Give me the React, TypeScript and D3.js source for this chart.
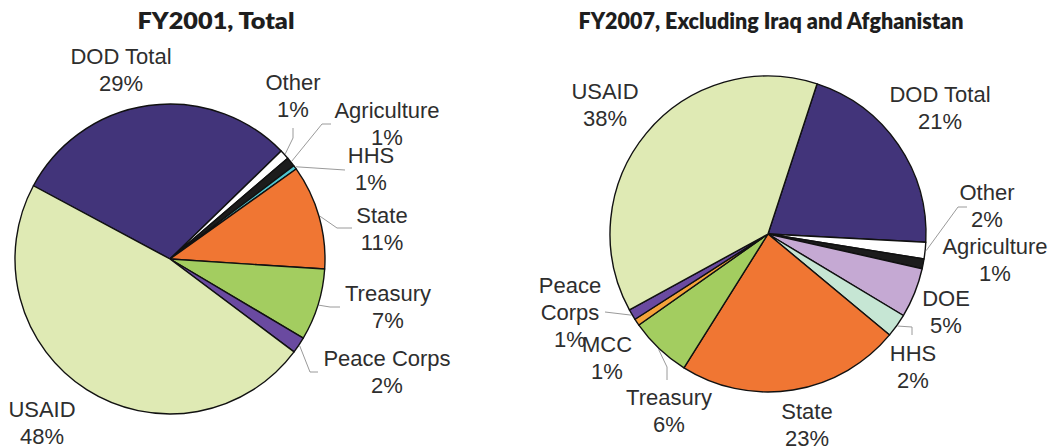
import React from "react";
import * as d3 from "d3";

// ---------- Data ----------
const leftTitle = "FY2001, Total";
const leftCategories = ["DOD Total", "Other", "Agriculture", "HHS", "State", "Treasury", "Peace Corps", "USAID"];
const leftValues = [29.9, 1.0, 1.0, 0.4, 10.9, 7.5, 1.7, 47.6];
const leftPctLabels = ["29%", "1%", "1%", "1%", "11%", "7%", "2%", "48%"];
const leftColors = ["#42347a", "#ffffff", "#1c1c1c", "#4fc6d0", "#f07633", "#a3cd60", "#6a4aa0", "#dfeab4"];

const rightTitle = "FY2007, Excluding Iraq and Afghanistan";
const rightCategories = ["DOD Total", "Other", "Agriculture", "DOE", "HHS", "State", "Treasury", "MCC", "Peace Corps", "USAID"];
const rightValues = [20.8, 1.7, 1.0, 5.1, 2.4, 22.9, 6.3, 0.7, 1.1, 38.0];
const rightPctLabels = ["21%", "2%", "1%", "5%", "2%", "23%", "6%", "1%", "1%", "38%"];
const rightColors = ["#42347a", "#ffffff", "#1c1c1c", "#c5a9d3", "#c6e6d4", "#f07633", "#a3cd60", "#f6a33a", "#6a4aa0", "#dfeab4"];

// ---------- Layout (positions relative to pie centre) ----------
type LabelLayout = { x: number; y: number; lines?: string[]; leader?: [number, number][] };

const leftLayout: Record<string, LabelLayout> = {
  "DOD Total": { x: -49, y: -195 },
  Other: { x: 123, y: -169, leader: [[123, -121], [123, -131]] },
  Agriculture: { x: 217, y: -141, leader: [[152, -135], [161, -135]] },
  HHS: { x: 201, y: -96, leader: [[175, -89]] },
  State: { x: 212, y: -36, leader: [[167, -31], [182, -31]] },
  Treasury: { x: 218, y: 42, leader: [[160, 48], [170, 48]] },
  "Peace Corps": { x: 217, y: 107, leader: [[140, 113], [148, 113]] },
  USAID: { x: -128, y: 158 },
};

const rightLayout: Record<string, LabelLayout> = {
  USAID: { x: -163, y: -135 },
  "DOD Total": { x: 172, y: -132 },
  Other: { x: 219, y: -34, leader: [[190, -27], [199, -27]] },
  Agriculture: { x: 227, y: 20 },
  DOE: { x: 178, y: 72 },
  HHS: { x: 145, y: 127, leader: [[144, 93], [144, 101]] },
  State: { x: 39, y: 185 },
  Treasury: { x: -99, y: 171, leader: [[-101, 133], [-101, 146]] },
  MCC: { x: -161, y: 118 },
  "Peace Corps": { x: -198, y: 59, lines: ["Peace", "Corps", "1%"], leader: [[-163, 78]] },
};

const LINE = 27;

type PieProps = {
  cx: number;
  cy: number;
  r: number;
  startDeg: number;
  categories: string[];
  values: number[];
  pcts: string[];
  colors: string[];
  layout: Record<string, LabelLayout>;
  title: string;
  titleX: number;
  titleWidth: number;
};

function Pie({ cx, cy, r, startDeg, categories, values, pcts, colors, layout, title, titleX, titleWidth }: PieProps) {
  const start = (startDeg * Math.PI) / 180;
  const pie = d3
    .pie<number>()
    .sort(null)
    .value((d) => d)
    .startAngle(start)
    .endAngle(start + 2 * Math.PI);
  const arcs = pie(values);
  const arc = d3.arc<d3.PieArcDatum<number>>().innerRadius(0).outerRadius(r);
  const line = d3.line();

  return (
    <g>
      <text
        x={titleX - titleWidth / 2}
        y={29}
        textLength={titleWidth}
        lengthAdjust="spacingAndGlyphs"
        fontFamily="Lato, 'Open Sans', sans-serif"
        fontWeight={800}
        fontSize={22}
        fill="#1e1e1e"
      >
        {title}
      </text>
      <g transform={`translate(${cx},${cy})`}>
        {arcs.map((a, i) => (
          <path key={i} d={arc(a) || ""} fill={colors[i]} stroke="#111" strokeWidth={1.4} strokeLinejoin="round" />
        ))}
        {arcs.map((a, i) => {
          const lay = layout[categories[i]];
          if (!lay || !lay.leader) return null;
          const mid = (a.startAngle + a.endAngle) / 2;
          const p0: [number, number] = [Math.sin(mid) * (r + 1), -Math.cos(mid) * (r + 1)];
          return (
            <path key={"l" + i} d={line([p0, ...lay.leader]) || ""} fill="none" stroke="#9a9a9a" strokeWidth={1} />
          );
        })}
        {arcs.map((a, i) => {
          const lay = layout[categories[i]];
          if (!lay) return null;
          const lines = lay.lines || [categories[i], pcts[i]];
          return (
            <text
              key={"t" + i}
              x={lay.x}
              y={lay.y}
              textAnchor="middle"
              fontFamily="'Liberation Sans', Arial, sans-serif"
              fontSize={22}
              fill="#2e2e2e"
            >
              {lines.map((s, j) => (
                <tspan key={j} x={lay.x} y={lay.y + j * LINE}>
                  {s}
                </tspan>
              ))}
            </text>
          );
        })}
      </g>
    </g>
  );
}

export default function App() {
  return (
    <svg
      width={1050}
      height={447}
      style={{ position: "absolute", left: 0, top: 0, background: "#fff" }}
    >
      <rect width={1050} height={447} fill="#fff" />
      <Pie
        cx={170}
        cy={259}
        r={155}
        startDeg={-61.8}
        categories={leftCategories}
        values={leftValues}
        pcts={leftPctLabels}
        colors={leftColors}
        layout={leftLayout}
        title={leftTitle}
        titleX={216}
        titleWidth={157}
      />
      <Pie
        cx={768}
        cy={234}
        r={158}
        startDeg={18.1}
        categories={rightCategories}
        values={rightValues}
        pcts={rightPctLabels}
        colors={rightColors}
        layout={rightLayout}
        title={rightTitle}
        titleX={771}
        titleWidth={385}
      />
    </svg>
  );
}
